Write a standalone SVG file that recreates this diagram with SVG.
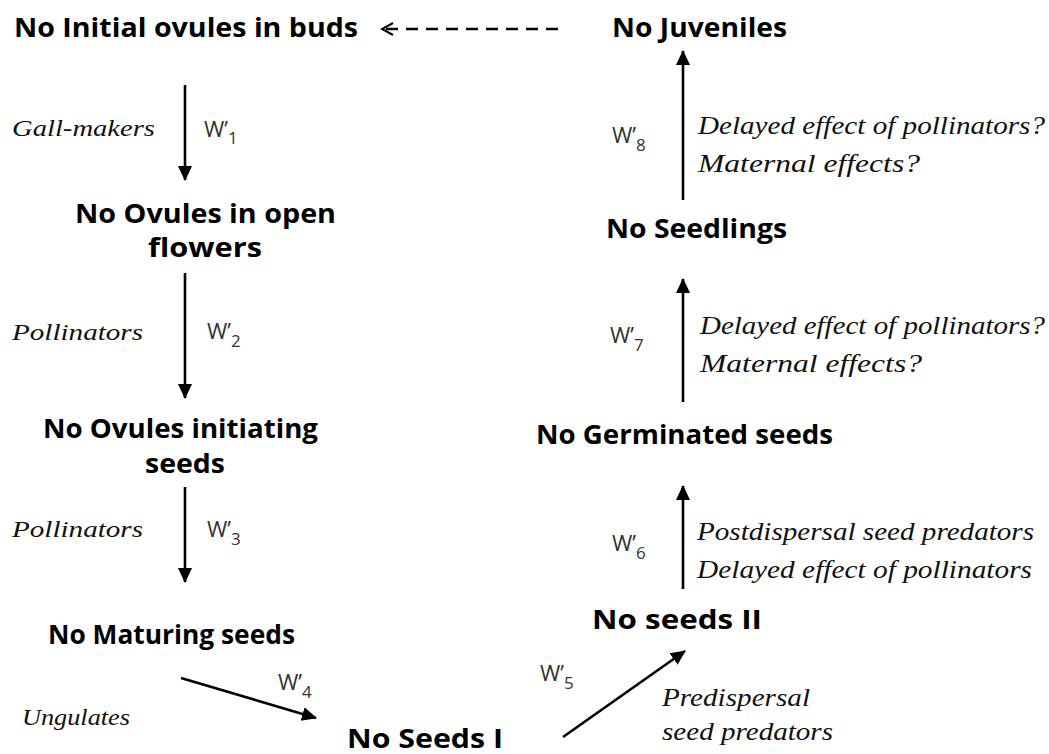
<svg xmlns="http://www.w3.org/2000/svg" width="1049" height="754" viewBox="0 0 1049 754">
<defs>
<style>
.n{font-family:"Open Sans","DejaVu Sans",sans-serif;font-weight:700;font-size:27px;fill:#000}
.f{font-family:"Liberation Serif","DejaVu Serif",serif;font-style:italic;font-size:24px;fill:#111}
.fr{font-size:26px}
.w{font-family:"Open Sans","DejaVu Sans",sans-serif;font-size:22px;fill:#333}
.s{font-size:17px}
.a{stroke:#000;stroke-width:2.6;fill:none}
</style>
<marker id="ah" markerUnits="userSpaceOnUse" markerWidth="16" markerHeight="16" viewBox="0 0 16 16" refX="14" refY="8" orient="auto">
<path d="M0,1 L15,8 L0,15 Z" fill="#000"/>
</marker>
<marker id="oh" markerUnits="userSpaceOnUse" markerWidth="16" markerHeight="16" viewBox="0 0 16 16" refX="14" refY="8" orient="auto">
<path d="M3,2 L14,8 L3,14" fill="none" stroke="#000" stroke-width="2"/>
</marker>
</defs>
<rect width="1049" height="754" fill="#fff"/>
<g id="connectors">
<line class="a" x1="558" y1="29" x2="382" y2="29" stroke-dasharray="12 8" stroke-width="2" marker-end="url(#oh)"/>
<line class="a" x1="185" y1="85" x2="185" y2="180" marker-end="url(#ah)"/>
<line class="a" x1="185" y1="273" x2="185" y2="398" marker-end="url(#ah)"/>
<line class="a" x1="185" y1="487" x2="185" y2="582" marker-end="url(#ah)"/>
<line class="a" x1="181" y1="678" x2="316" y2="718" marker-end="url(#ah)"/>
<line class="a" x1="563" y1="737" x2="685" y2="651" marker-end="url(#ah)"/>
<line class="a" x1="683" y1="589" x2="683" y2="486" marker-end="url(#ah)"/>
<line class="a" x1="683" y1="402" x2="683" y2="279" marker-end="url(#ah)"/>
<line class="a" x1="683" y1="200" x2="683" y2="51" marker-end="url(#ah)"/>
</g>
<g id="n1"><text class="n" x="14" y="37" textLength="344" lengthAdjust="spacingAndGlyphs">No Initial ovules in buds</text></g>
<g id="n2"><text class="n" x="75" y="223" textLength="261" lengthAdjust="spacingAndGlyphs">No Ovules in open</text><text class="n" x="148" y="257" textLength="114" lengthAdjust="spacingAndGlyphs">flowers</text></g>
<g id="n3"><text class="n" x="43" y="438" textLength="275" lengthAdjust="spacingAndGlyphs">No Ovules initiating</text><text class="n" x="145" y="473" textLength="80" lengthAdjust="spacingAndGlyphs">seeds</text></g>
<g id="n4"><text class="n" x="48" y="644" textLength="247" lengthAdjust="spacingAndGlyphs">No Maturing seeds</text></g>
<g id="n5"><text class="n" x="347" y="748" textLength="156" lengthAdjust="spacingAndGlyphs">No Seeds I</text></g>
<g id="n6"><text class="n" x="592" y="629" textLength="170" lengthAdjust="spacingAndGlyphs">No seeds II</text></g>
<g id="n7"><text class="n" x="536" y="444" textLength="297" lengthAdjust="spacingAndGlyphs">No Germinated seeds</text></g>
<g id="n8"><text class="n" x="606" y="238" textLength="181" lengthAdjust="spacingAndGlyphs">No Seedlings</text></g>
<g id="n9"><text class="n" x="612" y="37" textLength="175" lengthAdjust="spacingAndGlyphs">No Juveniles</text></g>
<g id="labels">
<text class="f" x="12" y="136" textLength="143" lengthAdjust="spacingAndGlyphs">Gall-makers</text>
<text class="w" x="204" y="137">W’<tspan class="s" dy="7">1</tspan></text>
<text class="f" x="12" y="340" textLength="131" lengthAdjust="spacingAndGlyphs">Pollinators</text>
<text class="w" x="207" y="339">W’<tspan class="s" dy="8">2</tspan></text>
<text class="f" x="12" y="537" textLength="131" lengthAdjust="spacingAndGlyphs">Pollinators</text>
<text class="w" x="207" y="537">W’<tspan class="s" dy="8">3</tspan></text>
<text class="w" x="278" y="690">W’<tspan class="s" dy="8">4</tspan></text>
<text class="f" x="22" y="725" textLength="108" lengthAdjust="spacingAndGlyphs">Ungulates</text>
<text class="w" x="540" y="681">W’<tspan class="s" dy="8">5</tspan></text>
<text class="f fr" x="662" y="706" textLength="148" lengthAdjust="spacingAndGlyphs">Predispersal</text>
<text class="f fr" x="662" y="740" textLength="171" lengthAdjust="spacingAndGlyphs">seed predators</text>
<text class="w" x="612" y="551">W’<tspan class="s" dy="8">6</tspan></text>
<text class="f fr" x="697" y="540" textLength="337" lengthAdjust="spacingAndGlyphs">Postdispersal seed predators</text>
<text class="f fr" x="697" y="578" textLength="335" lengthAdjust="spacingAndGlyphs">Delayed effect of pollinators</text>
<text class="w" x="610" y="343">W’<tspan class="s" dy="8">7</tspan></text>
<text class="f fr" x="700" y="334" textLength="345" lengthAdjust="spacingAndGlyphs">Delayed effect of pollinators?</text>
<text class="f fr" x="700" y="372" textLength="222" lengthAdjust="spacingAndGlyphs">Maternal effects?</text>
<text class="w" x="612" y="143">W’<tspan class="s" dy="8">8</tspan></text>
<text class="f fr" x="698" y="134" textLength="347" lengthAdjust="spacingAndGlyphs">Delayed effect of pollinators?</text>
<text class="f fr" x="698" y="172" textLength="222" lengthAdjust="spacingAndGlyphs">Maternal effects?</text>
</g>
</svg>
